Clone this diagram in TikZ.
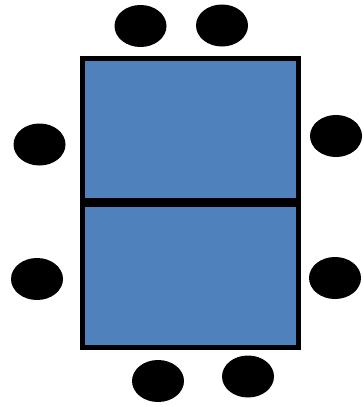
\documentclass[tikz,border=0pt]{standalone}
\usetikzlibrary{shapes.geometric}
\definecolor{tableblue}{RGB}{79,129,189}
\begin{document}
\begin{tikzpicture}[x=1pt,y=-1pt,
  tablebox/.style={draw=black,fill=tableblue,line width=5pt,inner sep=0pt,minimum width=216pt,rectangle},
  seat/.style={ellipse,fill=black,inner sep=0pt,minimum width=52pt,minimum height=42pt}]
\useasboundingbox (0,0) rectangle (364,407);
\node[tablebox,minimum height=142pt] (t1) at (190.5,129.4) {};
\node[tablebox,minimum height=142.5pt] (t2) at (190.5,275.8) {};
\node[seat] (s1) at (140.5,26) {};
\node[seat] (s2) at (222,25.5) {};
\node[seat] (s3) at (39.5,144.5) {};
\node[seat] (s4) at (336,136) {};
\node[seat] (s5) at (37,279) {};
\node[seat] (s6) at (335,278) {};
\node[seat] (s7) at (158,381) {};
\node[seat] (s8) at (248,376.5) {};
\end{tikzpicture}
\end{document}
